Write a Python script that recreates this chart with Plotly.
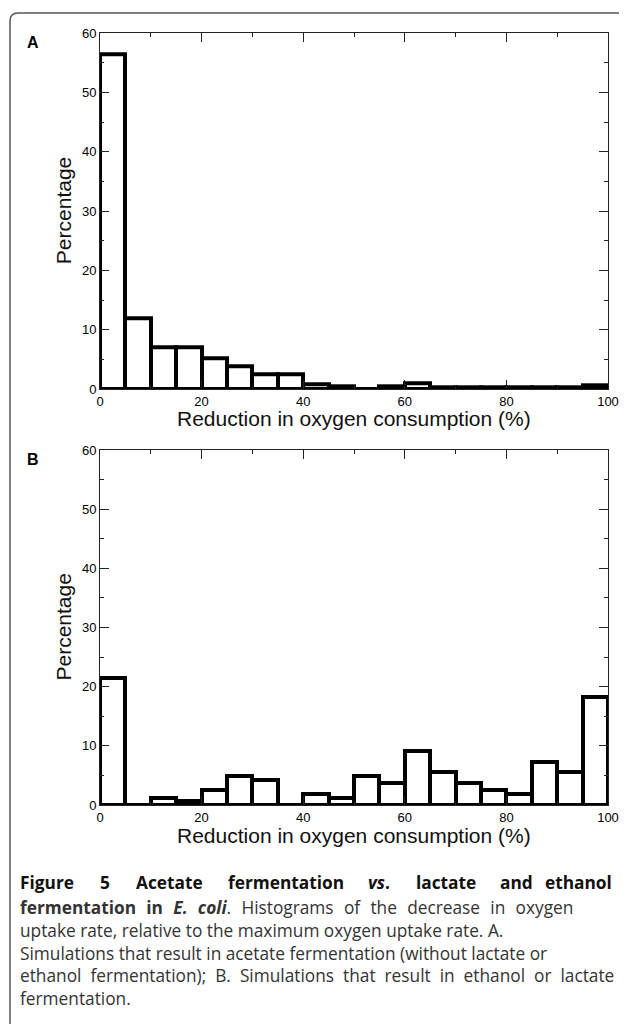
import plotly.graph_objects as go

# page body has an 8px margin; lay the figure out in reference pixels and shift
OFF = 8
W, H = 627 - OFF, 1024 - OFF

# ---- data ----
bin_starts = [0, 5, 10, 15, 20, 25, 30, 35, 40, 45, 50, 55, 60, 65, 70, 75, 80, 85, 90, 95]
bin_width = 5
pct_a = [56.4, 12.0, 7.0, 7.0, 5.1, 3.8, 2.5, 2.5, 0.85, 0.5, 0.0, 0.4, 0.9, 0.3, 0.3, 0.3, 0.3, 0.3, 0.3, 0.65]
pct_b = [21.4, 0.0, 1.2, 0.7, 2.5, 4.9, 4.2, 0.0, 1.8, 1.1, 4.9, 3.7, 9.1, 5.5, 3.7, 2.5, 1.8, 7.2, 5.5, 18.3]
x_ticks = [0, 20, 40, 60, 80, 100]
y_ticks = [0, 10, 20, 30, 40, 50, 60]
x_title = "Reduction in oxygen consumption (%)"
y_title = "Percentage"
panel_labels = ["A", "B"]


def px(x):
    return (x - OFF) / W


def py(y):
    return 1 - (y - OFF) / H


fig = go.Figure()
bar_style = dict(color="white", line=dict(color="black", width=4))
base_x = [bin_starts[0], bin_starts[-1] + bin_width]
for vals, xa, ya in [(pct_a, "x", "y"), (pct_b, "x2", "y2")]:
    fig.add_trace(go.Bar(x=bin_starts, y=vals, width=bin_width, offset=0, marker=bar_style,
                         cliponaxis=False, xaxis=xa, yaxis=ya, showlegend=False))
    # histogram base line: empty bins show up as a thick line on the axis
    fig.add_trace(go.Scatter(x=base_x, y=[0, 0], mode="lines", line=dict(color="black", width=4),
                             cliponaxis=False, xaxis=xa, yaxis=ya, showlegend=False, hoverinfo="skip"))

tickfont = dict(family="Liberation Sans, Arial, sans-serif", size=13, color="#000")
axcol = "#222"


def xax(anchor):
    return dict(domain=[px(100), px(608)], range=[0, 100], tickvals=x_ticks, ticks="inside",
                ticklen=9, tickwidth=1, tickcolor=axcol, showline=True, linecolor=axcol, linewidth=1,
                mirror="ticks", showgrid=False, zeroline=False, anchor=anchor,
                minor=dict(dtick=10, tick0=0, ticks="inside", ticklen=4, tickcolor=axcol, tickwidth=1, showgrid=False),
                tickfont=tickfont, automargin=False, fixedrange=True)


def yax(dom, anchor):
    return dict(domain=dom, range=[0, 60], tickvals=y_ticks, ticks="inside",
                ticklen=9, tickwidth=1, tickcolor=axcol, showline=True, linecolor=axcol, linewidth=1,
                mirror="ticks", showgrid=False, zeroline=False, anchor=anchor,
                minor=dict(dtick=5, tick0=0, ticks="inside", ticklen=4, tickcolor=axcol, tickwidth=1, showgrid=False),
                tickfont=tickfont, automargin=False, fixedrange=True)


yA = [py(389), py(33.3)]
yB = [py(805), py(450)]

annotations = []
title_font = dict(family="Liberation Sans, Arial, sans-serif", size=21, color="#111")
for lab, ytop, ybot in [(panel_labels[0], 33.3, 389), (panel_labels[1], 450, 805)]:
    annotations.append(dict(text="<b>" + lab + "</b>", x=px(33), y=py(ytop + 9.5), xref="paper", yref="paper",
                            showarrow=False, xanchor="center", yanchor="middle",
                            font=dict(family="Liberation Sans, Arial, sans-serif", size=16, color="#000")))
    annotations.append(dict(text=x_title, x=px(354), y=py(ybot + 30), xref="paper", yref="paper",
                            showarrow=False, xanchor="center", yanchor="middle", font=title_font))
    annotations.append(dict(text=y_title, x=px(63), y=py((ytop + ybot) / 2), xref="paper", yref="paper",
                            showarrow=False, xanchor="center", yanchor="middle", textangle=-90, font=title_font))

# ---- caption ----
cap_font = "'Open Sans', sans-serif"
cap_size = 17.3
line1_words = ["Figure", "5", "Acetate", "fermentation", "<i>vs</i>.", "lactate", "and", "ethanol"]
line1_x = [18, 98, 134, 226, 366, 414, 498, 614]
line1_anchor = ["left"] * 7 + ["right"]
for w, lx, an in zip(line1_words, line1_x, line1_anchor):
    annotations.append(dict(text="<b>" + w + "</b>", x=px(lx), y=py(882), xref="paper", yref="paper",
                            showarrow=False, xanchor=an, yanchor="middle",
                            font=dict(family=cap_font, size=cap_size, color="#111")))
caption_lines = [
    "<b>fermentation in <i>E. coli</i></b>. Histograms of the decrease in oxygen",
    "uptake rate, relative to the maximum oxygen uptake rate. A.",
    "Simulations that result in acetate fermentation (without lactate or",
    "ethanol fermentation); B. Simulations that result in ethanol or lactate",
    "fermentation.",
]
line_ys = [907, 930, 953, 975, 998]
line_wordspacing = [5.8, 0, 0, 4.5, 0]
for t, yy, ws in zip(caption_lines, line_ys, line_wordspacing):
    txt = t if ws == 0 else f'<span style="word-spacing:{ws}px">{t}</span>'
    annotations.append(dict(text=txt, x=px(18), y=py(yy), xref="paper", yref="paper",
                            showarrow=False, xanchor="left", yanchor="middle",
                            font=dict(family=cap_font, size=cap_size, color="#333")))


def P(x, y):
    return f"{px(x):.5f},{py(y):.5f}"


border = ("M " + P(10, 1040) + " L " + P(10, 21) + " Q " + P(10, 13) + " " + P(18, 13)
          + " L " + P(625, 13) + " Q " + P(633, 13) + " " + P(633, 21) + " L " + P(633, 1040))

fig.update_layout(
    width=W, height=H, template="none",
    margin=dict(l=0, r=0, t=0, b=0),
    paper_bgcolor="white", plot_bgcolor="white",
    xaxis=xax("y"), yaxis=yax(yA, "x"),
    xaxis2=xax("y2"), yaxis2=yax(yB, "x2"),
    bargap=0, showlegend=False,
    annotations=annotations,
    shapes=[dict(type="path", path=border, xref="paper", yref="paper", line=dict(color="#555", width=1.5))],
)

fig.write_html("out.html")
